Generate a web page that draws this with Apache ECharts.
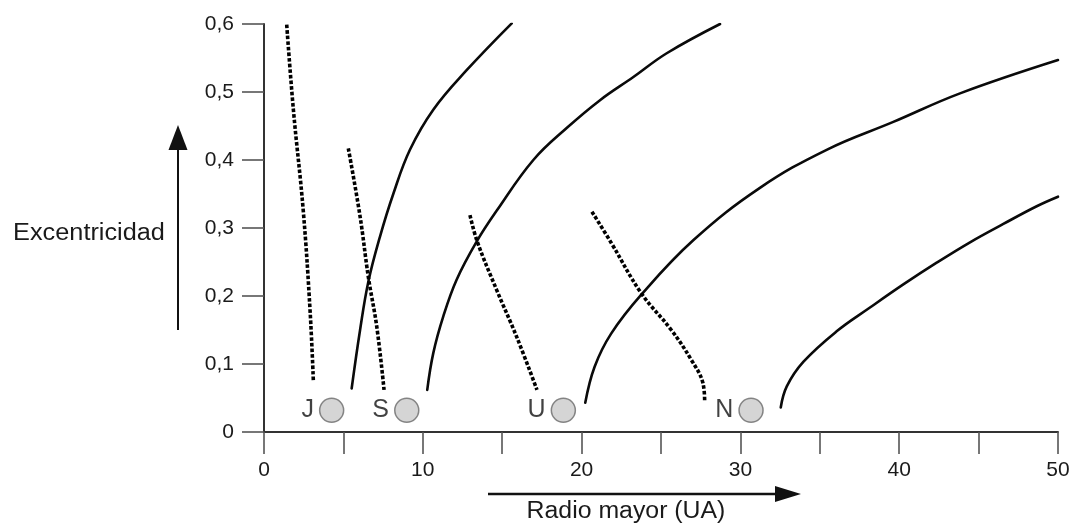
<!DOCTYPE html>
<html>
<head>
<meta charset="utf-8">
<script src="https://cdn.jsdelivr.net/npm/echarts@6/dist/echarts.min.js"></script>
<style>html,body{margin:0;padding:0;background:#fff}#c{width:1073px;height:527px}</style>
</head>
<body>
<div id="c"></div>
<script>
// x ticks (Radio mayor, UA) and y ticks (Excentricidad)
const xTickLabels = ['0', '10', '20', '30', '40', '50'];
const yTickLabels = ['0', '0,1', '0,2', '0,3', '0,4', '0,5', '0,6'];

// solid curves [a (UA), e]
const solid1 = [[5.52,0.064],[6.05,0.150],[6.57,0.221],[7.30,0.287],[8.14,0.350],[9.19,0.415],[10.66,0.474],[12.76,0.532],[15.60,0.601]];
const solid2 = [[10.28,0.062],[10.66,0.116],[11.29,0.170],[12.13,0.224],[13.39,0.280],[14.67,0.326],[16.96,0.400],[19.06,0.447],[21.16,0.488],[23.26,0.522],[25.36,0.557],[28.72,0.600]];
const solid3 = [[20.23,0.043],[20.82,0.096],[21.87,0.145],[23.76,0.202],[27.03,0.282],[31.23,0.359],[35.43,0.415],[39.63,0.456],[43.83,0.498],[50,0.547]];
const solid4 = [[32.54,0.036],[32.92,0.067],[33.96,0.103],[36.06,0.148],[38.16,0.183],[40.26,0.217],[42.36,0.249],[44.46,0.279],[46.56,0.306],[48.66,0.332],[50,0.346]];

// dotted curves [a (UA), e]
const dotJ = [[1.43,0.599],[1.85,0.474],[2.47,0.326],[2.90,0.179],[3.11,0.074]];
const dotS = [[5.31,0.417],[6.05,0.317],[6.57,0.228],[7.10,0.155],[7.56,0.062]];
const dotU = [[12.97,0.319],[13.43,0.280],[14.65,0.209],[15.91,0.140],[17.19,0.062]];
const dotN = [[20.65,0.324],[21.87,0.278],[23.76,0.204],[25.65,0.150],[26.91,0.106],[27.64,0.072],[27.75,0.045]];

// planets
const planetNames = ['J', 'S', 'U', 'N'];
const planetA = [4.26, 8.99, 18.85, 30.67];
const planetE = [0.032, 0.032, 0.032, 0.032];

const FONT = 'Liberation Sans, Arial, Helvetica, sans-serif';
const chart = echarts.init(document.getElementById('c'), null, {renderer: 'canvas'});

function solidSeries(d) {
  return {type: 'line', data: d, smooth: 0.4, showSymbol: false, silent: true,
    lineStyle: {color: '#0a0a0a', width: 2.6, cap: 'round'}, z: 3};
}
function dotSeries(d) {
  return {type: 'line', data: d, smooth: 0.4, showSymbol: false, silent: true,
    lineStyle: {color: '#000', width: 3.6, type: [3.6, 2]}, z: 3};
}

const option = {
  animation: false,
  backgroundColor: '#fff',
  grid: {left: 264, right: 15, top: 24, bottom: 95, containLabel: false},
  xAxis: {
    type: 'value', min: 0, max: 50, interval: 5,
    splitLine: {show: false},
    axisLine: {show: true, lineStyle: {color: '#333', width: 2}},
    axisTick: {show: true, length: 22, lineStyle: {color: '#555', width: 1.6}},
    axisLabel: {
      margin: 28, fontSize: 21, color: '#1a1a1a', fontFamily: FONT,
      formatter: v => (v % 10 === 0 ? xTickLabels[v / 10] : '')
    }
  },
  yAxis: {
    type: 'value', min: 0, max: 0.6, interval: 0.1,
    splitLine: {show: false},
    axisLine: {show: true, lineStyle: {color: '#333', width: 2}},
    axisTick: {show: true, length: 22, lineStyle: {color: '#555', width: 1.6}},
    axisLabel: {
      margin: 30, fontSize: 21, color: '#1a1a1a', fontFamily: FONT,
      formatter: v => yTickLabels[Math.round(v * 10)]
    }
  },
  series: [
    solidSeries(solid1), solidSeries(solid2), solidSeries(solid3), solidSeries(solid4),
    dotSeries(dotJ), dotSeries(dotS), dotSeries(dotU), dotSeries(dotN),
    {
      type: 'scatter', z: 5, silent: true,
      data: planetNames.map((n, i) => ({name: n, value: [planetA[i], planetE[i]]})),
      symbol: 'circle', symbolSize: 24,
      itemStyle: {color: '#cbcbcb', borderColor: '#6a6a6a', borderWidth: 1.5},
      label: {show: true, position: 'left', distance: 5, formatter: p => p.name,
        fontSize: 25, color: '#111', fontFamily: FONT}
    }
  ],
  graphic: [
    {type: 'text', x: 89, y: 234, scaleX: 1.1, z: 10,
      style: {text: 'Excentricidad', fontSize: 23, fontFamily: FONT, fill: '#1a1a1a', textAlign: 'center', textVerticalAlign: 'middle'}},
    {type: 'line', z: 10, shape: {x1: 178, y1: 330, x2: 178, y2: 148}, style: {stroke: '#111', lineWidth: 2}},
    {type: 'polygon', z: 10, shape: {points: [[178, 125], [168.5, 150], [187.5, 150]]}, style: {fill: '#111'}},
    {type: 'text', x: 626, y: 512, scaleX: 1.08, z: 10,
      style: {text: 'Radio mayor (UA)', fontSize: 23, fontFamily: FONT, fill: '#1a1a1a', textAlign: 'center', textVerticalAlign: 'middle'}},
    {type: 'line', z: 10, shape: {x1: 488, y1: 494, x2: 778, y2: 494}, style: {stroke: '#111', lineWidth: 2.5}},
    {type: 'polygon', z: 10, shape: {points: [[801, 494], [775, 486], [775, 502]]}, style: {fill: '#111'}}
  ]
};
chart.setOption(option);
</script>
</body>
</html>
